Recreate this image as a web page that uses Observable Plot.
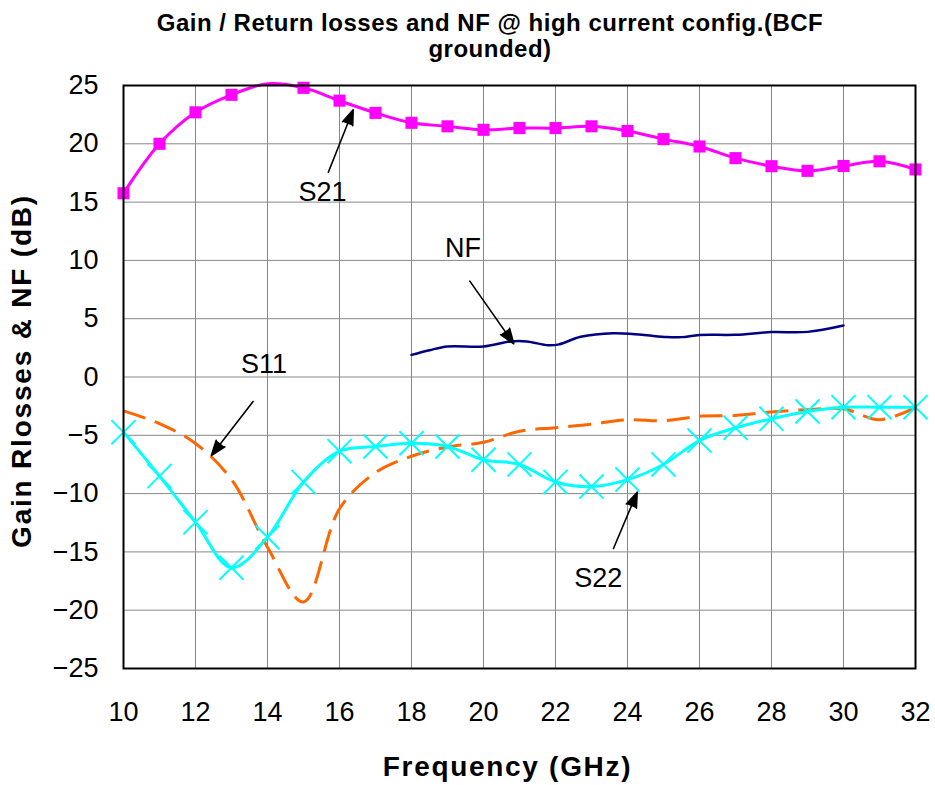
<!DOCTYPE html>
<html>
<head>
<meta charset="utf-8">
<script src="https://cdn.jsdelivr.net/npm/d3@7"></script>
<script src="https://cdn.jsdelivr.net/npm/@observablehq/plot@0.6"></script>
<style>
  body { margin: 0; background: #fff; font-family: "Liberation Sans", Arial, sans-serif; }
  #title { width: 935px; height: 62px; box-sizing: border-box; padding-top: 10px; padding-left: 45px;
           text-align: center; font-weight: bold; font-size: 24px; line-height: 26px; letter-spacing: 0.5px; color: #000; }
  #chart svg { display: block; }
</style>
</head>
<body>
<div id="title">Gain / Return losses and NF @ high current config.(BCF<br>grounded)</div>
<div id="chart"></div>
<script>
// ---- data ----
const freq = [10,11,12,13,14,15,16,17,18,19,20,21,22,23,24,25,26,27,28,29,30,31,32];
const s21  = [15.76,20.0,22.7,24.2,25.15,24.8,23.7,22.65,21.8,21.5,21.2,21.35,21.35,21.5,21.1,20.4,19.77,18.77,18.08,17.68,18.1,18.5,17.8];
const s22  = [-4.73,-8.5,-12.45,-16.36,-13.74,-9.0,-6.36,-5.96,-5.68,-5.96,-7.1,-7.5,-9.0,-9.4,-8.8,-7.5,-5.45,-4.36,-3.59,-2.96,-2.59,-2.59,-2.59];
const s11  = [-2.9,-4.0,-5.7,-8.8,-14.6,-19.3,-11.3,-8.2,-6.8,-6.0,-5.6,-4.65,-4.35,-4.05,-3.67,-3.75,-3.37,-3.3,-3.0,-2.8,-2.73,-3.67,-2.6];
const nfFreq = [18,18.5,19,20,20.75,21.2,21.8,22.1,22.7,23.6,24.4,25.1,25.5,26,27,28,29,30];
const nf     = [1.9,2.3,2.62,2.62,3.05,3.05,2.72,2.8,3.45,3.76,3.62,3.42,3.42,3.6,3.62,3.85,3.87,4.42];

const xTicks = [10,12,14,16,18,20,22,24,26,28,30,32];
const yTicks = [-25,-20,-15,-10,-5,0,5,10,15,20,25];

// annotations (data units)
const annLabel = ["S21","NF","S11","S22"];
const annX     = [15.53,19.43,13.9,23.19];
const annY     = [15.82,11.0,1.1,-17.28];
const arrX1    = [15.69,19.62,13.6,23.61];
const arrY1    = [17.56,8.22,-2.1,-14.71];
const arrX2    = [16.38,20.84,12.44,24.27];
const arrY2    = [22.92,2.85,-6.73,-9.88];

const xTitle = "Frequency (GHz)";
const yTitle = "Gain Rlosses & NF (dB)";

// ---- tables ----
const mk = (xs, ys) => xs.map((x, i) => ({x, y: ys[i]}));
const S21 = mk(freq, s21), S22 = mk(freq, s22), S11 = mk(freq, s11), NF = mk(nfFreq, nf);
const ann = annLabel.map((t, i) => ({t, x: annX[i], y: annY[i], x1: arrX1[i], y1: arrY1[i], x2: arrX2[i], y2: arrY2[i]}));

const chart = Plot.plot({
  width: 935,
  height: 723,
  marginTop: 23,
  marginBottom: 117,
  marginLeft: 123,
  marginRight: 20,
  style: { fontSize: "27px", fontFamily: "'Liberation Sans', Arial, sans-serif", color: "#000", background: "#fff" },
  x: { domain: [10, 32], ticks: xTicks, tickSize: 0, tickPadding: 33, label: null },
  y: { domain: [-25, 25], ticks: yTicks, tickSize: 0, tickPadding: 25, label: null },
  marks: [
    Plot.ruleX(xTicks, { stroke: "#888", strokeWidth: 1 }),
    Plot.ruleY(yTicks, { stroke: "#888", strokeWidth: 1 }),
    Plot.line(S11, { x: "x", y: "y", curve: "catmull-rom", stroke: "#FF6600", strokeWidth: 3, strokeDasharray: "23,10", strokeLinecap: "butt" }),
    Plot.line(S22, { x: "x", y: "y", curve: "catmull-rom", stroke: "#00FFFF", strokeWidth: 3 }),
    Plot.dot(S22, { x: "x", y: "y", symbol: "times", r: 11, stroke: "#00FFFF", strokeWidth: 2 }),
    Plot.line(NF, { x: "x", y: "y", curve: "catmull-rom", stroke: "#000080", strokeWidth: 2.5 }),
    Plot.line(S21, { x: "x", y: "y", curve: "catmull-rom", stroke: "#FF00FF", strokeWidth: 3 }),
    Plot.dot(S21.filter(d => d.y <= 25), { x: "x", y: "y", symbol: "square", r: 6.8, fill: "#FF00FF", stroke: "none" }),
    Plot.frame({ stroke: "#000", strokeWidth: 2 }),
    Plot.arrow(ann, { x1: "x1", y1: "y1", x2: "x2", y2: "y2", stroke: "#000", fill: "#000", strokeWidth: 1.6, headLength: 15, headAngle: 40 }),
    Plot.text(ann, { x: "x", y: "y", text: "t", fontSize: 27, fill: "#000" }),
    Plot.text([xTitle], { frameAnchor: "bottom", textAnchor: "middle", dy: 107, dx: -12, text: d => d, fontSize: 28, fontWeight: "bold", fill: "#000" }),
    Plot.text([yTitle], { frameAnchor: "left", textAnchor: "middle", dx: -101, dy: -6, rotate: -90, text: d => d, fontSize: 28, fontWeight: "bold", fill: "#000" })
  ]
});
for (const t of chart.querySelectorAll("text")) {
  if (t.textContent === xTitle) t.setAttribute("letter-spacing", "1.7");
  if (t.textContent === yTitle) t.setAttribute("letter-spacing", "1.8");
}
document.getElementById("chart").appendChild(chart);
</script>
</body>
</html>
